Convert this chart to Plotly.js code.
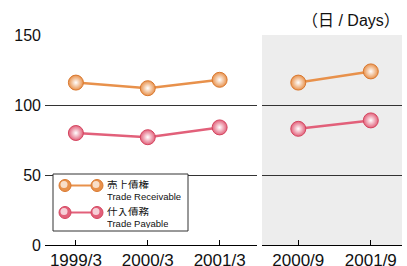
<!DOCTYPE html>
<html><head><meta charset="utf-8">
<script src="https://cdn.plot.ly/plotly-3.0.1.min.js"></script>
<style>html,body{margin:0;padding:0;background:#fff}#chart{width:407px;height:266px}</style>
</head><body><div id="chart"></div>
<script>
// ---- data ----
const annualPeriods = ['1999/3', '2000/3', '2001/3'];
const interimPeriods = ['2000/9', '2001/9'];
const receivableAnnual = [116, 112, 118];
const payableAnnual = [80, 77, 84];
const receivableInterim = [116, 124];
const payableInterim = [83, 89];
const yTicks = [0, 50, 100, 150];
const recNameJa = '売上債権', recNameEn = 'Trade Receivable';
const payNameJa = '仕入債務', payNameEn = 'Trade Payable';
const unitLabel = '（日 / Days）';

// ---- styles ----
const ORANGE = '#E8914B', ORANGE_DK = '#D9782F';
const PINK = '#E2607A', PINK_DK = '#D4455F';
const FONT = 'Liberation Sans, Arial, Noto Sans CJK JP, sans-serif';

function tr(x, y, xa, ya, col, dk) {
  return {
    x: x, y: y, xaxis: xa, yaxis: ya, type: 'scatter', mode: 'lines+markers',
    line: {color: col, width: 2.5},
    marker: {size: 15, color: col, line: {color: dk, width: 1},
             gradient: {type: 'radial', color: '#FFFFFF'}},
    showlegend: false, hoverinfo: 'skip', cliponaxis: false
  };
}
const data = [
  tr(annualPeriods, receivableAnnual, 'x', 'y', ORANGE, ORANGE_DK),
  tr(annualPeriods, payableAnnual, 'x', 'y', PINK, PINK_DK),
  tr(interimPeriods, receivableInterim, 'x2', 'y2', ORANGE, ORANGE_DK),
  tr(interimPeriods, payableInterim, 'x2', 'y2', PINK, PINK_DK)
];

// pixel -> paper helpers (plot area 45..402 x, 35..245 y)
const L = 45, R = 402, T = 35, B = 245;
const px = v => (v - L) / (R - L);
const py = v => (B - v) / (B - T);

const shapes = [
  {type: 'rect', xref: 'x2 domain', yref: 'y2 domain', x0: 0, x1: 1, y0: 0, y1: 1,
   fillcolor: '#EDEDED', line: {width: 0}, layer: 'below'},
  {type: 'rect', xref: 'paper', yref: 'paper', x0: px(53), x1: px(188), y0: py(231), y1: py(174),
   fillcolor: '#FFFFFF', line: {color: '#333', width: 1}, layer: 'above'}
];
const annotations = [
  {xref: 'paper', yref: 'paper', x: 1, y: py(20), xanchor: 'right', yanchor: 'middle',
   text: unitLabel, showarrow: false, font: {family: FONT, size: 16, color: '#111'}}
];
function legendEntry(yc, col, dk, ja, en) {
  shapes.push({type: 'line', xref: 'paper', yref: 'paper', x0: px(65), x1: px(97), y0: py(yc), y1: py(yc),
               line: {color: col, width: 2}, layer: 'above'});
  [65, 97].forEach(cx => {
    shapes.push({type: 'circle', xref: 'paper', yref: 'paper', x0: px(cx - 6), x1: px(cx + 6),
                 y0: py(yc + 6), y1: py(yc - 6), fillcolor: col, line: {color: dk, width: 1}, layer: 'above'});
    shapes.push({type: 'circle', xref: 'paper', yref: 'paper', x0: px(cx - 4.5), x1: px(cx + 2.5),
                 y0: py(yc + 2.5), y1: py(yc - 4.5), fillcolor: 'rgba(255,255,255,0.7)', line: {width: 0}, layer: 'above'});
  });
  annotations.push({xref: 'paper', yref: 'paper', x: px(106), y: py(yc - 1.5), xanchor: 'left', yanchor: 'middle',
    height: 10, borderpad: 0,
    text: ja, showarrow: false, font: {family: 'Noto Sans CJK JP, sans-serif', size: 10.5, color: '#111'}});
  annotations.push({xref: 'paper', yref: 'paper', x: px(106), y: py(yc + 10.5), xanchor: 'left', yanchor: 'middle',
    height: 9, borderpad: 0,
    text: en, showarrow: false, font: {family: FONT, size: 9.5, color: '#111'}});
}
legendEntry(185.5, ORANGE, ORANGE_DK, recNameJa, recNameEn);
legendEntry(212.5, PINK, PINK_DK, payNameJa, payNameEn);

const xBase = {type: 'category', ticks: 'inside', ticklen: 5, tickcolor: '#000', showline: true,
  linecolor: '#000', linewidth: 1, showgrid: false, zeroline: false, fixedrange: true,
  tickfont: {family: FONT, size: 17, color: '#111'}};
const yBase = {range: [0, 150], tickvals: yTicks, showgrid: true, gridcolor: '#333', gridwidth: 1,
  zeroline: false, showline: false, ticks: '', fixedrange: true, ticklabelstandoff: 3,
  tickfont: {family: FONT, size: 16, color: '#111'}};

const layout = {
  width: 407, height: 266,
  margin: {l: L, r: 407 - R, t: T, b: 266 - B},
  paper_bgcolor: '#FFFFFF', plot_bgcolor: 'rgba(0,0,0,0)',
  showlegend: false,
  xaxis: Object.assign({}, xBase, {domain: [0, px(257)], range: [-0.43, 2.52], anchor: 'y'}),
  xaxis2: Object.assign({}, xBase, {domain: [px(262), 1], range: [-0.5, 1.43], anchor: 'y2'}),
  yaxis: Object.assign({}, yBase, {anchor: 'x'}),
  yaxis2: Object.assign({}, yBase, {anchor: 'x2', showticklabels: false}),
  shapes: shapes, annotations: annotations
};
Plotly.newPlot('chart', data, layout, {displayModeBar: false, staticPlot: true});
</script></body></html>
